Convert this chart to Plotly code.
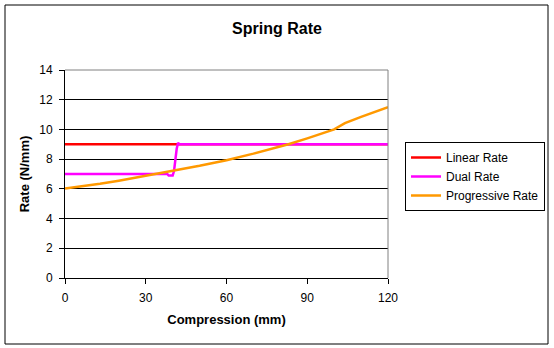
import plotly.graph_objects as go

# ---- data ----
linear_x = [0, 120]
linear_y = [9, 9]

dual_x = [0, 38, 38.5, 40, 40.5, 41, 41.5, 42, 42.5, 120]
dual_y = [7, 7, 6.9, 6.9, 7.2, 8.0, 8.7, 9.1, 9.0, 9.0]

prog_x = [0, 10, 13, 20, 28, 30, 39, 41, 50, 57, 60, 70, 80, 83, 90, 98, 100, 104, 110, 120]
prog_y = [6.02, 6.25, 6.34, 6.55, 6.8, 6.87, 7.17, 7.25, 7.55, 7.8, 7.93, 8.37, 8.82, 9.0, 9.4, 9.89, 10.0, 10.42, 10.85, 11.5]

x_ticks = [0, 30, 60, 90, 120]
y_ticks = [0, 2, 4, 6, 8, 10, 12, 14]

FONT = "Liberation Sans, Arial, sans-serif"

fig = go.Figure()
fig.add_trace(go.Scatter(x=linear_x, y=linear_y, mode="lines", name="Linear Rate",
                         line=dict(color="#FF0000", width=2.5)))
fig.add_trace(go.Scatter(x=dual_x, y=dual_y, mode="lines", name="Dual Rate",
                         line=dict(color="#FF00FF", width=2.5)))
fig.add_trace(go.Scatter(x=prog_x, y=prog_y, mode="lines", name="Progressive Rate",
                         line=dict(color="#FF9900", width=2.5)))

W, H = 554, 348
L, R, T, B = 65, 388, 70, 278
pw, ph = R - L, B - T

def px(xp):
    return (xp - L) / pw

def py(yp):
    return (B - yp) / ph

fig.update_layout(
    width=W, height=H,
    margin=dict(l=L, r=W - R, t=T, b=H - B, autoexpand=False),
    paper_bgcolor="white", plot_bgcolor="white",
    font=dict(family=FONT, size=12, color="black"),
    title=dict(text="<b>Spring Rate</b>", x=277 / W, xanchor="center",
               y=1 - 28 / H, yanchor="middle", yref="container",
               font=dict(size=16, family=FONT, color="black")),
    showlegend=True,
    legend=dict(x=px(545), xanchor="right", y=py(142), yanchor="top",
                bgcolor="white", bordercolor="black", borderwidth=1,
                font=dict(size=12, family=FONT, color="black"),
                itemwidth=30, tracegroupgap=0),
    xaxis=dict(range=[0, 120], tickvals=x_ticks, ticktext=[str(v) for v in x_ticks],
               showgrid=False, zeroline=False, showline=True, linecolor="black", linewidth=1,
               ticks="outside", ticklen=5, tickcolor="black", ticklabelstandoff=4,
               tickfont=dict(size=12, family=FONT, color="black"),
               title=dict(text="<b>Compression (mm)</b>", standoff=10,
                          font=dict(size=13, family=FONT, color="black"))),
    yaxis=dict(range=[0, 14], tickvals=y_ticks, ticktext=[str(v) for v in y_ticks],
               showgrid=True, gridcolor="black", gridwidth=1, zeroline=False,
               showline=True, linecolor="black", linewidth=1,
               ticks="outside", ticklen=5, tickcolor="black", ticklabelstandoff=4,
               tickfont=dict(size=12, family=FONT, color="black"),
               title=dict(text="<b>Rate (N/mm)</b>", standoff=6,
                          font=dict(size=13, family=FONT, color="black"))),
    shapes=[
        # grey top/right plot-area border
        dict(type="line", xref="paper", yref="paper", x0=0, x1=1, y0=1, y1=1,
             line=dict(color="#808080", width=1), layer="above"),
        dict(type="line", xref="paper", yref="paper", x0=1, x1=1, y0=0, y1=1,
             line=dict(color="#808080", width=1), layer="above"),
        # outer chart border
        dict(type="rect", xref="paper", yref="paper", x0=px(5), x1=px(548), y0=py(344), y1=py(5),
             line=dict(color="black", width=1), fillcolor="rgba(0,0,0,0)", layer="above"),
    ],
)

fig.write_html("out.html")
